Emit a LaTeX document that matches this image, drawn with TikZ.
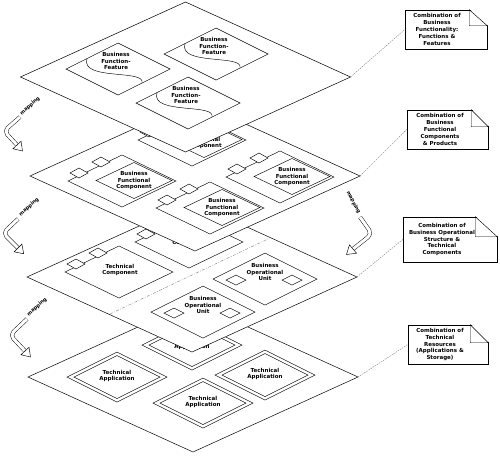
\documentclass[tikz,border=0pt]{standalone}
\usepackage{fontspec}
\setsansfont{DejaVu Sans}
\usetikzlibrary{calc}

\tikzset{
  plane/.style={draw, fill=white, line width=0.5pt},
  part/.style={draw, line width=0.45pt},
  lbl/.style={font=\sffamily\bfseries\fontsize{5.5}{6.9}\selectfont, align=center, inner sep=0pt},
  maplbl/.style={font=\sffamily\bfseries\fontsize{5}{6}\selectfont, inner sep=0pt},
  notebox/.style={draw, line width=0.5pt, inner sep=0pt},
  callout/.style={gray, line width=0.4pt, dash pattern=on 1.5pt off 1pt},
  divider/.style={gray, line width=0.4pt, dash pattern=on 3pt off 1.5pt on 0.8pt off 1.5pt},
  maparrow/.style={draw, double=white, double distance=3pt, line width=0.45pt, rounded corners=5pt},
}

% one layer of the stack
\newcommand{\layerplane}[1]{\draw[plane, shift={(#1)}] (-165,0) -- (0,-75) -- (165,0) -- (0,75) -- cycle;}

% function-feature plate with the wave
\newcommand{\featbox}[2]{%
  \begin{scope}[shift={(#2)}]
    \draw[part] (-52,0) -- (0,-26) -- (52,0) -- (0,26) -- cycle;
    \draw[part] (-31,-10.5) .. controls (-38,12) and (28,0) .. (24,14);
    \node[lbl] (#1) at (-2,-8) {Business\\Function-\\Feature};
  \end{scope}}

% two ports on the upper left edge
\newcommand{\portpair}{%
  \draw[part, fill=white] (-52,-8) -- (-43,-13) -- (-34,-8) -- (-43,-3) -- cycle;
  \draw[part, fill=white] (-30,-19) -- (-21,-24) -- (-12,-19) -- (-21,-14) -- cycle;}

\newcommand{\bizcomp}[2]{%
  \begin{scope}[shift={(#2)}]
    \draw[part] (-54,0) -- (0,-26) -- (54,0) -- (0,26) -- cycle;
    \portpair
    \draw[part] (-26,-0.5) -- (12,-18.5) -- (50,-0.5) -- (12,17.5) -- cycle;
    \node[lbl] (#1) at (12,-0.5) {Business\\Functional\\Component};
  \end{scope}}

\newcommand{\techcomp}[2]{%
  \begin{scope}[shift={(#2)}]
    \draw[part] (-54,0) -- (0,-26) -- (54,0) -- (0,26) -- cycle;
    \portpair
    \node[lbl] (#1) at (1,-2) {Technical\\Component};
  \end{scope}}

\newcommand{\opunit}[2]{%
  \begin{scope}[shift={(#2)}]
    \draw[part] (-52,0) -- (0,-26) -- (52,0) -- (0,26) -- cycle;
    \draw[part] (-39,1) -- (-29,-4) -- (-19,1) -- (-29,6) -- cycle;
    \draw[part] (17,1) -- (27,-4) -- (37,1) -- (27,6) -- cycle;
    \node[lbl] (#1) at (0,-7) {Business\\Operational\\Unit};
  \end{scope}}

\newcommand{\techapp}[2]{%
  \begin{scope}[shift={(#2)}]
    \draw[part] (-50,0) -- (0,-25) -- (50,0) -- (0,25) -- cycle;
    \draw[part] (-43,0) -- (0,-21.5) -- (43,0) -- (0,21.5) -- cycle;
    \node[lbl] (#1) at (0,-1) {Technical\\Application};
  \end{scope}}

% folded corner of a note: node, fold width, fold height
\newcommand{\dogear}[3]{%
  \fill[white] ([xshift=-#2pt,yshift=1pt]#1.north east) -- ([xshift=1pt,yshift=1pt]#1.north east) -- ([xshift=1pt,yshift=-#3pt]#1.north east) -- cycle;
  \draw[part] ([xshift=-#2pt]#1.north east) -- ([xshift=-#2pt,yshift=-#3pt]#1.north east) -- ([yshift=-#3pt]#1.north east) -- cycle;}

% hollow head of a mapping arrow: base, tip
\newcommand{\maphead}[2]{\draw[part, fill=white] (#2) -- ($(#1)!5.5pt!90:(#2)$) -- ($(#1)!5.5pt!-90:(#2)$) -- cycle;}

\begin{document}
\begin{tikzpicture}[x=1pt,y=-1pt]
  % \draw[help lines, gray!50, very thin] (0,0) grid[step=50] (500,455);
  \useasboundingbox (0,0) rectangle (500,455);

  % technical resources
  \layerplane{193,377}
  \techapp{ta1}{192,345}
  \techapp{ta2}{117,377}
  \techapp{ta3}{265,375}
  \techapp{ta4}{203,403}
  \coordinate (l4e) at (358,377);

  % operational structure and technical components
  \layerplane{192,277}
  \draw[divider] (110,314) -- (270,238);
  \techcomp{tc1}{189,242}
  \techcomp{tc2}{119,272}
  \opunit{ou1}{265,279}
  \opunit{ou2}{203,312}
  \coordinate (l3e) at (357,277);

  % functional components
  \layerplane{195,176}
  \bizcomp{bc1}{192,140}
  \bizcomp{bc2}{122,181}
  \bizcomp{bc3}{280,177}
  \bizcomp{bc4}{210,208}
  \coordinate (l2e) at (360,176);

  % functions and features
  \layerplane{185.5,77}
  \featbox{ff1}{118,69}
  \featbox{ff2}{216,54}
  \featbox{ff3}{188,103}
  \coordinate (l1e) at (350.5,77);

  % notes
  \node[notebox, minimum width=82pt, minimum height=39pt] (n1) at (446,29.5) {};
  \dogear{n1}{18}{16}
  \node[lbl] (t1) at (437,29.5) {Combination of\\Business\\Functionality:\\Functions \&\\Features};
  \draw[callout] (l1e) -- (n1.west);

  \node[notebox, minimum width=81pt, minimum height=39pt] (n2) at (447.5,129.5) {};
  \dogear{n2}{17}{17}
  \node[lbl] (t2) at (440,129.5) {Combination of\\Business\\Functional\\Components\\\& Products};
  \draw[callout] (l2e) -- (n2.west);

  \node[notebox, minimum width=94pt, minimum height=45pt] (n3) at (450,239.5) {};
  \dogear{n3}{22}{20}
  \node[lbl] (t3) at (442,239.5) {Combination of\\Business Operational\\Structure \&\\Technical\\Components};
  \draw[callout] (l3e) -- (n3.west);

  \node[notebox, minimum width=80pt, minimum height=39pt] (n4) at (448,344.5) {};
  \dogear{n4}{18}{18}
  \node[lbl] (t4) at (440,344.5) {Combination of\\Technical\\Resources\\(Applications \&\\Storage)};
  \draw[callout] (l4e) -- (n4.west);

  % mapping arrows
  \node[maplbl, rotate=42] (m1) at (30,106) {mapping};
  \draw[maparrow] (20,117) -- (4,131) -- (17,145);
  \maphead{17,145}{22.5,151}

  \node[maplbl, rotate=42] (m2) at (29,207) {mapping};
  \draw[maparrow] (18,219) -- (3,233) -- (18,248);
  \maphead{18,248}{23.7,253.7}

  \node[maplbl, rotate=42] (m3) at (37,307) {mapping};
  \draw[maparrow] (27,319) -- (10,335) -- (25,351);
  \maphead{25,351}{30.5,357}

  \node[maplbl, rotate=-62] (m4) at (353.5,202.5) {mapping};
  \draw[maparrow] (360,217) -- (372,234) -- (353,249);
  \maphead{353,249}{346.5,254.5}
\end{tikzpicture}
\end{document}
